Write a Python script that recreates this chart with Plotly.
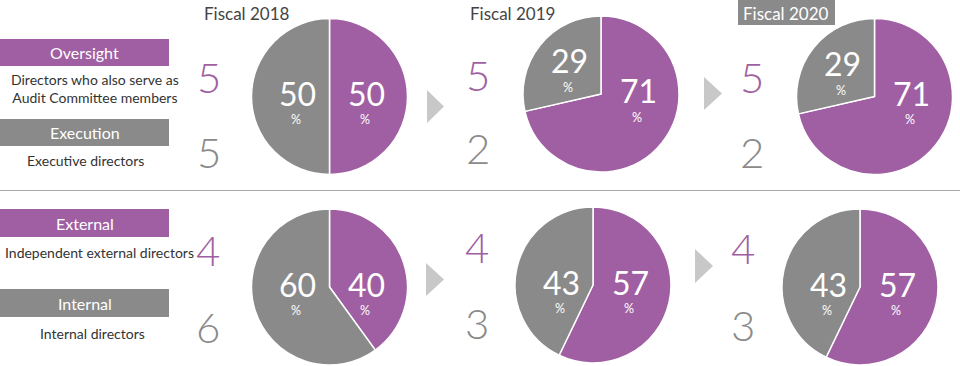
import plotly.graph_objects as go

# ---- data ----
years = ["Fiscal 2018", "Fiscal 2019", "Fiscal 2020"]
oversight = [5, 5, 5]      # Directors who also serve as Audit Committee members
execution = [5, 2, 2]      # Executive directors
external = [4, 4, 4]       # Independent external directors
internal = [6, 3, 3]       # Internal directors

PURPLE = "#a05fa3"
GRAY = "#8a8a8a"
ARROW = "#c8c8c8"
W, H = 960, 366
FONT = "Lato"

def px(x):
    return x / W

def py(y):
    return 1 - y / H

fig = go.Figure()

# pie geometry (pixels): centre x, centre y, radius
top_pies = [(329.5, 96.5, 78), (601, 94, 78), (874.5, 96.5, 78)]
bot_pies = [(329.5, 287, 78), (593, 285, 78), (860, 287, 78)]

rows = [
    (oversight, execution, top_pies),
    (external, internal, bot_pies),
]

annotations = []
shapes = []

def pct_label(x, y, val):
    annotations.append(dict(x=px(x), y=py(y), xref="paper", yref="paper",
                            text=str(val), showarrow=False, xanchor="center", yanchor="middle",
                            font=dict(family=FONT, size=32, color="white")))
    annotations.append(dict(x=px(x - 1.5), y=py(y + 26.5), xref="paper", yref="paper",
                            text="%", showarrow=False, xanchor="center", yanchor="middle",
                            font=dict(family=FONT, size=12.5, color="white")))

for a_vals, b_vals, pies in rows:
    for i, (cx, cy, r) in enumerate(pies):
        a, b = a_vals[i], b_vals[i]
        fig.add_trace(go.Pie(
            values=[a, b], labels=["a", "b"], sort=False, direction="clockwise", rotation=0,
            marker=dict(colors=[PURPLE, GRAY], line=dict(color="white", width=1.5)),
            textinfo="none", hoverinfo="skip", showlegend=False,
            domain=dict(x=[px(cx - r), px(cx + r)], y=[py(cy + r), py(cy - r)]),
        ))
        pa = round(100 * a / (a + b))
        pb = 100 - pa
        pct_label(cx + 37, cy - 3, pa)
        gy = cy - 3 if pb >= 40 else cy - 33
        pct_label(cx - 32, gy, pb)

# count numbers next to pies
num_pos_top = [(209, 77, 152), (478, 75, 148), (752, 77, 152)]
num_pos_bot = [(208, 250, 327), (477, 247, 323), (743, 248, 325)]
for vals_a, vals_b, pos in [(oversight, execution, num_pos_top), (external, internal, num_pos_bot)]:
    for i, (x, ya, yb) in enumerate(pos):
        annotations.append(dict(x=px(x), y=py(ya), xref="paper", yref="paper", text=str(vals_a[i]),
                                showarrow=False, xanchor="center", yanchor="middle",
                                font=dict(family=FONT, size=42, color=PURPLE, weight=300)))
        annotations.append(dict(x=px(x), y=py(yb), xref="paper", yref="paper", text=str(vals_b[i]),
                                showarrow=False, xanchor="center", yanchor="middle",
                                font=dict(family=FONT, size=42, color=GRAY, weight=300)))

# year headers
year_pos = [(247, 13), (512, 13), (786, 13)]
for i, (x, y) in enumerate(year_pos):
    annotations.append(dict(x=px(x), y=py(y), xref="paper", yref="paper", text=years[i],
                            showarrow=False, xanchor="center", yanchor="middle",
                            font=dict(family=FONT, size=17, color="white" if i == 2 else "#444444")))
shapes.append(dict(type="rect", xref="paper", yref="paper", x0=px(738), x1=px(835), y0=py(25), y1=py(0),
                   fillcolor=GRAY, line=dict(width=0), layer="below"))

# left category boxes
boxes = [("Oversight", PURPLE, 39, 66), ("Execution", GRAY, 119, 146),
         ("External", PURPLE, 209, 237), ("Internal", GRAY, 289, 317)]
for txt, col, y0, y1 in boxes:
    shapes.append(dict(type="rect", xref="paper", yref="paper", x0=0, x1=px(169), y0=py(y1), y1=py(y0),
                       fillcolor=col, line=dict(width=0), layer="below"))
    annotations.append(dict(x=px(84.5), y=py((y0 + y1) / 2), xref="paper", yref="paper", text=txt,
                            showarrow=False, xanchor="center", yanchor="middle",
                            font=dict(family=FONT, size=16, color="white")))

subs = [("Directors who also serve as<br>Audit Committee members", 95, 88),
        ("Executive directors", 85, 160),
        ("Independent external directors", 99, 252),
        ("Internal directors", 92, 333)]
for txt, x, y in subs:
    annotations.append(dict(x=px(x), y=py(y), xref="paper", yref="paper", text=txt,
                            showarrow=False, xanchor="center", yanchor="middle", align="center",
                            font=dict(family=FONT, size=14, color="#333333")))

# arrows
arrows = [(427, 444, 90, 123), (704, 722, 77, 110), (426, 444, 263, 296), (695, 713, 249, 283)]
for x0, x1, y0, y1 in arrows:
    path = "M {} {} L {} {} L {} {} Z".format(px(x0), py(y0), px(x1), py((y0 + y1) / 2), px(x0), py(y1))
    shapes.append(dict(type="path", xref="paper", yref="paper", path=path,
                       fillcolor=ARROW, line=dict(width=0)))

# separator
shapes.append(dict(type="line", xref="paper", yref="paper", x0=0, x1=1, y0=py(190.5), y1=py(190.5),
                   line=dict(color="#aaaaaa", width=1.2)))

fig.update_layout(width=W, height=H, autosize=False, margin=dict(l=0, r=0, t=0, b=0),
                  paper_bgcolor="white", plot_bgcolor="white",
                  annotations=annotations, shapes=shapes)

fig.write_html("out.html", config={"displayModeBar": False},
               post_script="document.body.style.margin='0';")
